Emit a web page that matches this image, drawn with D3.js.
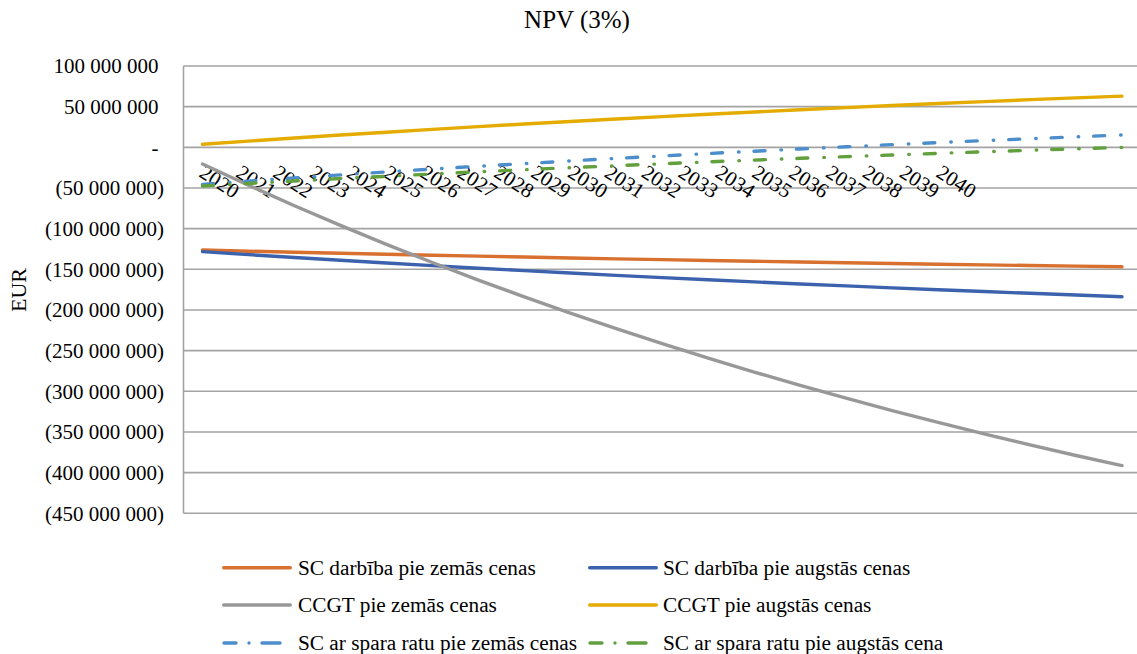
<!DOCTYPE html>
<html>
<head>
<meta charset="utf-8">
<script src="https://cdn.jsdelivr.net/npm/d3@7"></script>
<style>
  html, body { margin: 0; padding: 0; background: #fff; }
  svg { display: block; font-family: "Liberation Serif", "Times New Roman", serif; }
</style>
</head>
<body>
<svg id="chart" width="1137" height="654"></svg>
<script>
// Years on the category axis
const years = ["2020","2021","2022","2023","2024","2025","2026","2027","2028","2029","2030",
               "2031","2032","2033","2034","2035","2036","2037","2038","2039","2040"];

// NPV at 3 %, million EUR
const scLow = [-126.3,-127.7,-129.0,-130.2,-131.5,-132.7,-133.8,-134.9,-136.0,-137.1,-138.1,
               -139.1,-140.1,-141.0,-141.9,-142.8,-143.7,-144.5,-145.3,-146.1,-146.8];
const scHigh = [-128.3,-131.9,-135.5,-138.9,-142.2,-145.4,-148.6,-151.6,-154.5,-157.4,-160.2,
                -162.8,-165.5,-168.0,-170.4,-172.8,-175.1,-177.3,-179.5,-181.6,-183.7];
const ccgtLow = [-20.5,-46.6,-71.8,-96.0,-119.3,-141.6,-163.2,-183.9,-203.8,-223.0,-241.4,
                 -259.2,-276.3,-292.7,-308.5,-323.7,-338.3,-352.4,-365.9,-378.9,-391.4];
const ccgtHigh = [3.7,7.6,11.4,15.1,18.6,22.1,25.4,28.7,31.8,34.9,37.8,
                  40.7,43.5,46.2,48.8,51.4,53.8,56.2,58.6,60.8,63.0];
const flyLow = [-45.5,-41.5,-37.6,-33.9,-30.2,-26.7,-23.3,-20.0,-16.7,-13.6,-10.6,
                -7.6,-4.8,-2.0,0.7,3.3,5.8,8.3,10.6,12.9,15.2];
const flyHigh = [-47.5,-44.4,-41.4,-38.4,-35.6,-32.8,-30.1,-27.5,-25.0,-22.6,-20.2,
                 -17.9,-15.7,-13.5,-11.4,-9.4,-7.4,-5.5,-3.6,-1.8,0.0];

const seriesNames = ["SC darbība pie zemās cenas","SC darbība pie augstās cenas",
                     "CCGT pie zemās cenas","CCGT pie augstās cenas",
                     "SC ar spara ratu pie zemās cenas","SC ar spara ratu pie augstās cena"];

// Value axis ticks, million EUR
const yTicks = [100,50,0,-50,-100,-150,-200,-250,-300,-350,-400,-450];

const series = [
  {name: seriesNames[0], values: scLow,    color: "#D8702F", dashed: false},
  {name: seriesNames[1], values: scHigh,   color: "#3C62AE", dashed: false},
  {name: seriesNames[2], values: ccgtLow,  color: "#989898", dashed: false},
  {name: seriesNames[3], values: ccgtHigh, color: "#E4AB00", dashed: false},
  {name: seriesNames[4], values: flyLow,   color: "#4C8DCB", dashed: true},
  {name: seriesNames[5], values: flyHigh,  color: "#62A03E", dashed: true}
];

const svg = d3.select("#chart");
const plot = {left: 183.5, right: 1137, top: 66, bottom: 513.3};

const x = d3.scalePoint().domain(years).range([202.5, 1122]);
const y = d3.scaleLinear().domain([-450, 100]).range([plot.bottom, plot.top]);
// category labels sit on their own, tighter spacing
const xLabel = d3.scalePoint().domain(years).range([198, 935]);

const loc = d3.formatLocale({decimal: ",", thousands: " ", grouping: [3], currency: ["", ""]});
const fmt = loc.format(",.0f");
const tickText = v => v === 0 ? "-" : (v < 0 ? "(" + fmt(-v * 1e6) + ")" : fmt(v * 1e6));

// Title
svg.append("text")
  .attr("x", 577).attr("y", 28)
  .attr("text-anchor", "middle")
  .attr("font-size", 25)
  .attr("fill", "#000")
  .text("NPV (3%)");

// Axis title
svg.append("text")
  .attr("transform", "translate(26,290) rotate(-90)")
  .attr("text-anchor", "middle")
  .attr("font-size", 22)
  .attr("fill", "#000")
  .text("EUR");

// Horizontal gridlines
svg.append("g")
  .selectAll("line")
  .data(yTicks)
  .join("line")
  .attr("x1", plot.left).attr("x2", plot.right)
  .attr("y1", d => y(d)).attr("y2", d => y(d))
  .attr("stroke", "#a3a3a3")
  .attr("stroke-width", 1.6);

// Vertical value axis line
svg.append("line")
  .attr("x1", plot.left).attr("x2", plot.left)
  .attr("y1", plot.top).attr("y2", plot.bottom)
  .attr("stroke", "#a3a3a3")
  .attr("stroke-width", 1.6);

// Value axis labels
const yAxis = d3.axisLeft(y).tickValues(yTicks).tickFormat(tickText).tickSize(0).tickPadding(0);
const yg = svg.append("g").attr("transform", `translate(${plot.left},0)`).call(yAxis);
yg.select(".domain").remove();
yg.selectAll("text")
  .attr("font-family", "Liberation Serif, Times New Roman, serif")
  .attr("font-size", 21)
  .attr("fill", "#000")
  .attr("x", d => d < 0 ? 164 - plot.left : 158.5 - plot.left);

// Category labels, rotated
svg.append("g")
  .selectAll("text")
  .data(years)
  .join("text")
  .attr("transform", d => `translate(${xLabel(d)},176) rotate(33)`)
  .attr("font-size", 21)
  .attr("fill", "#000")
  .text(d => d);

// Series lines
const line = d3.line().x((d, i) => x(years[i])).y(d => y(d));
const dash = "11 16 0.5 15";

svg.append("g")
  .selectAll("path")
  .data(series)
  .join("path")
  .attr("d", d => line(d.values))
  .attr("fill", "none")
  .attr("stroke", d => d.color)
  .attr("stroke-width", 3.4)
  .attr("stroke-linecap", "round")
  .attr("stroke-linejoin", "round")
  .attr("stroke-dasharray", d => d.dashed ? dash : null);

// Legend
const legendRows = [567.7, 605, 643];
const legendItems = series.map((s, i) => ({
  ...s,
  col: i % 2,
  row: Math.floor(i / 2)
}));
const colLine = [222, 588];
const colText = [298, 663];

const lg = svg.append("g");
legendItems.forEach(d => {
  const ly = legendRows[d.row];
  const x0 = colLine[d.col];
  if (d.dashed) {
    // dash, dot, dash key
    lg.append("line")
      .attr("x1", x0 + 2).attr("x2", x0 + 58)
      .attr("y1", ly).attr("y2", ly)
      .attr("stroke", d.color)
      .attr("stroke-width", 3.4)
      .attr("stroke-linecap", "round")
      .attr("stroke-dasharray", "12 13 0.01 13 30");
  } else {
    lg.append("line")
      .attr("x1", x0 + 1.7).attr("x2", x0 + 68.3)
      .attr("y1", ly).attr("y2", ly)
      .attr("stroke", d.color)
      .attr("stroke-width", 3.4)
      .attr("stroke-linecap", "round");
  }
  lg.append("text")
    .attr("x", colText[d.col]).attr("y", ly + 7)
    .attr("font-size", 21.3)
    .attr("fill", "#000")
    .text(d.name);
});
</script>
</body>
</html>
